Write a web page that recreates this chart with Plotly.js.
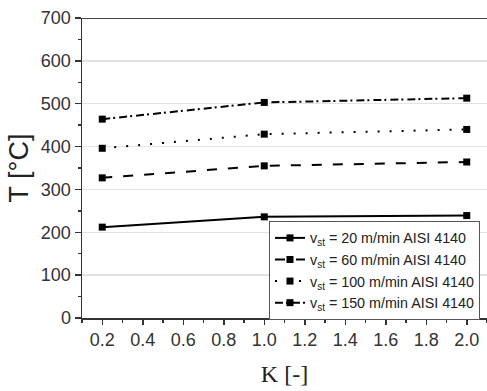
<!DOCTYPE html>
<html><head><meta charset="utf-8">
<script src="https://cdn.plot.ly/plotly-3.0.1.min.js"></script>
<style>html,body{margin:0;padding:0;background:#fff}#chart{width:487px;height:391px}</style>
</head><body><div id="chart"></div>
<script>
const K = [0.2, 1.0, 2.0];
const T_20 = [212, 236, 239];
const T_60 = [327, 355, 364];
const T_100 = [396, 429, 440];
const T_150 = [464, 503, 513];
const seriesNames = [
  'v<sub>st</sub> = 20 m/min AISI 4140',
  'v<sub>st</sub> = 60 m/min AISI 4140',
  'v<sub>st</sub> = 100 m/min AISI 4140',
  'v<sub>st</sub> = 150 m/min AISI 4140'
];
const series = [T_20, T_60, T_100, T_150];
const dashes = ['solid', '10px,11px', '2px,10px', '8px,3px,2px,4px'];

const traces = series.map((ys, i) => ({
  x: K, y: ys, name: seriesNames[i], type: 'scatter', mode: 'lines+markers',
  line: {color: '#000', width: 2, dash: dashes[i]},
  marker: {symbol: 'square', size: 7, color: '#000'}
}));

const layout = {
  width: 487, height: 391,
  margin: {l: 82, r: 0, t: 18, b: 73},
  paper_bgcolor: '#fff', plot_bgcolor: '#fff',
  font: {family: 'Liberation Sans, Arial, sans-serif', color: '#333'},
  showlegend: true,
  legend: {
    x: 0.4617, y: 0.323, xanchor: 'left', yanchor: 'top',
    bgcolor: '#fff', bordercolor: '#555', borderwidth: 1,
    font: {size: 14.3, color: '#222'}, tracegroupgap: 0,
    itemwidth: 30
  },
  xaxis: {
    range: [0.1, 2.1], tickvals: [0.2,0.4,0.6,0.8,1.0,1.2,1.4,1.6,1.8,2.0],
    ticktext: ['0.2','0.4','0.6','0.8','1.0','1.2','1.4','1.6','1.8','2.0'],
    ticks: 'outside', ticklen: 5, tickwidth: 1.5, tickcolor: '#333',
    minor: {dtick: 0.1, tick0: 0.1, ticks: 'outside', ticklen: 3, tickcolor: '#333', showgrid: false},
    showline: true, linecolor: '#333', linewidth: 1.5,
    showgrid: false, zeroline: false,
    tickfont: {size: 18, color: '#333'},
    title: {text: 'K [-]', font: {family: 'Liberation Serif, Times New Roman, serif', size: 24, color: '#222'}, standoff: 16}
  },
  yaxis: {
    range: [0, 700], dtick: 100,
    ticks: 'outside', ticklen: 6, tickwidth: 1.5, tickcolor: '#333',
    minor: {dtick: 50, ticks: 'outside', ticklen: 3, tickcolor: '#333', showgrid: false},
    showline: true, linecolor: '#333', linewidth: 1.5,
    showgrid: true, gridcolor: '#e2e2e2', gridwidth: 1.5, zeroline: false,
    tickfont: {size: 18, color: '#333'},
    title: {text: 'T [°C]', font: {size: 27, color: '#222'}, standoff: 4}
  },
  shapes: [{type: 'line', xref: 'paper', yref: 'y', x0: 0, x1: 1, y0: 700, y1: 700, line: {color: '#444', width: 2}}]
};

Plotly.newPlot('chart', traces, layout, {displayModeBar: false, staticPlot: true});
</script></body></html>
